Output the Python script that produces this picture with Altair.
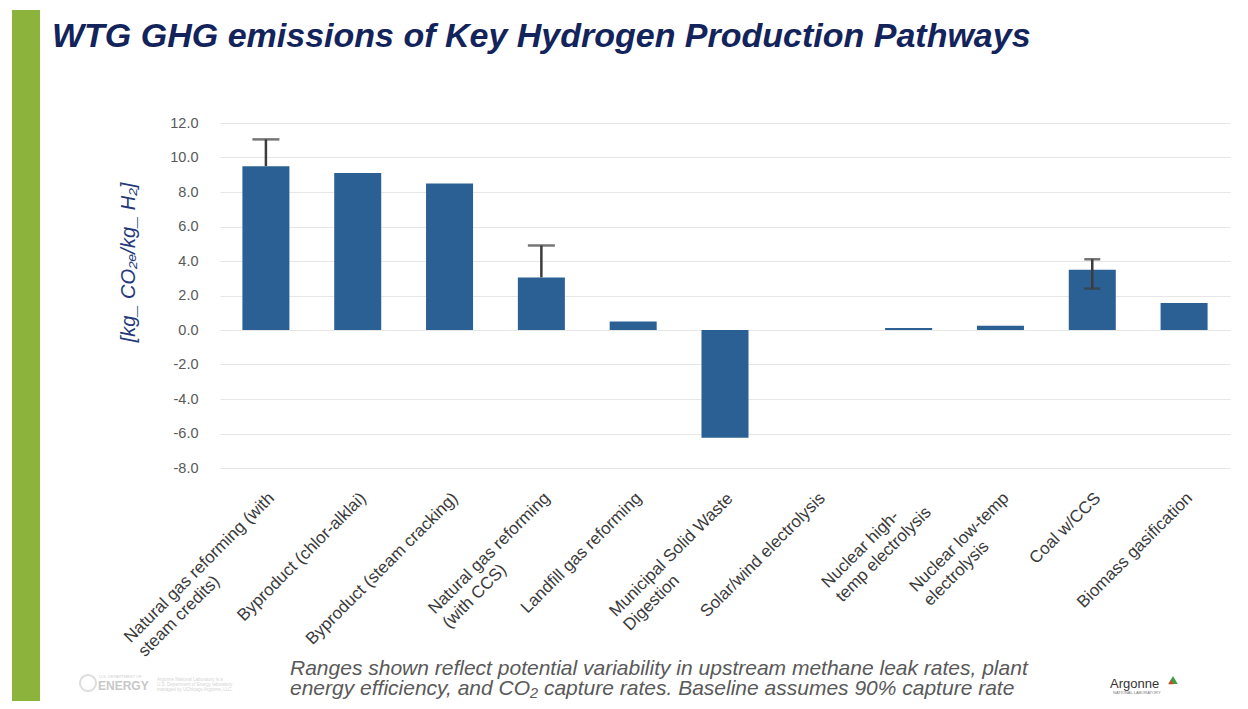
import altair as alt
import pandas as pd

# ---------------- data ----------------
label_lines = [
    ["Natural gas reforming (with", "steam credits)"],
    ["Byproduct (chlor-alklai)"],
    ["Byproduct (steam cracking)"],
    ["Natural gas reforming", "(with CCS)"],
    ["Landfill gas reforming"],
    ["Municipal Solid Waste", "Digestion"],
    ["Solar/wind electrolysis"],
    ["Nuclear high-", "temp electrolysis"],
    ["Nuclear low-temp", "electrolysis"],
    ["Coal w/CCS"],
    ["Biomass gasification"],
]
categories = [" ".join(l) for l in label_lines]
values = [9.5, 9.1, 8.5, 3.05, 0.5, -6.25, 0.0, 0.12, 0.25, 3.5, 1.57]

err_index = [0, 3, 9]
err_low = [9.5, 3.05, 2.4]
err_high = [11.05, 4.9, 4.1]
err_low_cap = [False, False, True]

y_ticks = [-8, -6, -4, -2, 0, 2, 4, 6, 8, 10, 12]

title_text = "WTG GHG emissions of Key Hydrogen Production Pathways"
y_title = "[kg_ CO\u2082\u2091/kg_ H\u2082]"
footnote = ["Ranges shown reflect potential variability in upstream methane leak rates, plant",
            "energy efficiency, and CO\u2082 capture rates. Baseline assumes 90% capture rate"]

# ---------------- layout helpers ----------------
W, H = 1010, 345
FONT = "Liberation Sans"
LABEL_SIZE = 17

# Arial / Liberation Sans advance widths (1/1000 em)
AW = {' ': 278, '(': 333, ')': 333, '-': 333, '/': 278,
      'a': 556, 'b': 556, 'c': 500, 'd': 556, 'e': 556, 'f': 278, 'g': 556, 'h': 556,
      'i': 222, 'j': 222, 'k': 500, 'l': 222, 'm': 833, 'n': 556, 'o': 556, 'p': 556,
      'q': 556, 'r': 333, 's': 500, 't': 278, 'u': 556, 'v': 500, 'w': 722, 'x': 500,
      'y': 500, 'z': 500, 'A': 667, 'B': 667, 'C': 722, 'D': 722, 'E': 667, 'F': 611,
      'G': 778, 'H': 722, 'I': 278, 'L': 556, 'M': 833, 'N': 722, 'O': 778, 'P': 667,
      'S': 667, 'T': 611, 'W': 944}


def text_width(s, size):
    return sum(AW.get(c, 556) for c in s) * size / 1000.0


xscale = alt.Scale(domain=categories, paddingInner=0.488, paddingOuter=0.244)
yscale = alt.Scale(domain=[-8, 12], nice=False, zero=False)

y_axis = alt.Axis(values=y_ticks,
                  labelExpr="replace(format(datum.value, '.1f'), '\u2212', '-')",
                  labelOverlap=False, grid=True, gridColor="#e6e6e6",
                  gridWidth=1, domain=False, ticks=False, labelFont=FONT,
                  labelFontSize=14.5, labelColor="#595959", labelPadding=22,
                  title=y_title, titleFont=FONT, titleFontSize=20,
                  titleFontStyle="italic", titleFontWeight="normal",
                  titleColor="#25397a", titleAngle=270, titleX=-92, titleY=139,
                  titleAlign="center", titleBaseline="middle")

df = pd.DataFrame({"cat": categories, "val": values})
edf = pd.DataFrame({
    "cat": [categories[i] for i in err_index],
    "lo": err_low,
    "hi": err_high,
    "locap": err_low_cap,
})

bars = alt.Chart(df).mark_bar(color="#2b6094").encode(
    x=alt.X("cat:N", scale=xscale, axis=None, sort=None),
    y=alt.Y("val:Q", scale=yscale, axis=y_axis),
    y2=alt.Y2(datum=0),
)

err_rule = alt.Chart(edf).mark_rule(color="#3c3c3c", strokeWidth=2.5).encode(
    x=alt.X("cat:N", scale=xscale, axis=None),
    y=alt.Y("lo:Q", scale=yscale, axis=y_axis),
    y2="hi:Q",
)
cap_hi_big = alt.Chart(edf).transform_filter("!datum.locap").mark_tick(
    color="#3c3c3c", thickness=2.5, size=27).encode(
    x=alt.X("cat:N", scale=xscale, axis=None),
    y=alt.Y("hi:Q", scale=yscale, axis=y_axis),
)
cap_small_hi = alt.Chart(edf).transform_filter("datum.locap").mark_tick(
    color="#3c3c3c", thickness=2.5, size=16).encode(
    x=alt.X("cat:N", scale=xscale, axis=None),
    y=alt.Y("hi:Q", scale=yscale, axis=y_axis),
)
cap_small_lo = alt.Chart(edf).transform_filter("datum.locap").mark_tick(
    color="#3c3c3c", thickness=2.5, size=16).encode(
    x=alt.X("cat:N", scale=xscale, axis=None),
    y=alt.Y("lo:Q", scale=yscale, axis=y_axis),
)

layers = [bars, err_rule, cap_hi_big, cap_small_hi, cap_small_lo]

# rotated category labels: lines left-aligned, longest line ending at the tick
for cat, lines in zip(categories, label_lines):
    L = max(text_width(s, LABEL_SIZE) for s in lines)
    ldf = pd.DataFrame({"cat": [cat], "txt": ["\n".join(lines)]})
    layers.append(
        alt.Chart(ldf).mark_text(
            angle=315, align="left", baseline="top", dx=-L, dy=0, lineBreak="\n",
            lineHeight=20, font=FONT, fontSize=LABEL_SIZE, color="#3a3a3a"
        ).encode(
            x=alt.X("cat:N", scale=xscale, axis=None),
            y=alt.value(H + 22),
            text="txt:N",
        )
    )

# title
layers.append(alt.Chart(pd.DataFrame({"t": [title_text]})).mark_text(
    align="left", baseline="alphabetic", font=FONT, fontSize=34, fontWeight="bold",
    fontStyle="italic", color="#13235b").encode(
    x=alt.value(-168), y=alt.value(-76), text="t:N"))

# green side stripe
layers.append(alt.Chart(pd.DataFrame({"a": [0]})).mark_rect(color="#8cb43c").encode(
    x=alt.value(-208), x2=alt.value(-180), y=alt.value(-113), y2=alt.value(586)))

# footnote
layers.append(alt.Chart(pd.DataFrame({"t": ["\n".join(footnote)]})).mark_text(
    align="left", baseline="alphabetic", font=FONT, fontSize=21, fontStyle="italic",
    lineBreak="\n", lineHeight=20, color="#595959").encode(
    x=alt.value(70), y=alt.value(552), text="t:N"))

# Argonne logo text
layers.append(alt.Chart(pd.DataFrame({"t": ["Argonne"]})).mark_text(
    align="left", baseline="alphabetic", font=FONT, fontSize=13, color="#333333").encode(
    x=alt.value(890), y=alt.value(565), text="t:N"))
layers.append(alt.Chart(pd.DataFrame({"t": ["NATIONAL LABORATORY"]})).mark_text(
    align="left", baseline="alphabetic", font=FONT, fontSize=4, color="#777777").encode(
    x=alt.value(893), y=alt.value(571), text="t:N"))
layers.append(alt.Chart(pd.DataFrame({"a": [0]})).mark_point(
    shape="triangle-up", filled=True, size=90, color="#3f9b45", opacity=1).encode(
    x=alt.value(953), y=alt.value(557)))
layers.append(alt.Chart(pd.DataFrame({"a": [0]})).mark_point(
    shape="triangle-up", filled=True, size=25, color="#d9412b", opacity=1).encode(
    x=alt.value(951), y=alt.value(559)))

# DOE logo (faint)
layers.append(alt.Chart(pd.DataFrame({"a": [0]})).mark_point(
    shape="circle", filled=False, size=260, color="#d0d0d0", strokeWidth=2).encode(
    x=alt.value(-132), y=alt.value(560)))
layers.append(alt.Chart(pd.DataFrame({"t": ["ENERGY"]})).mark_text(
    align="left", baseline="alphabetic", font=FONT, fontSize=12, fontWeight="bold",
    color="#c8c8c8").encode(x=alt.value(-122), y=alt.value(567), text="t:N"))
layers.append(alt.Chart(pd.DataFrame({"t": ["U.S. DEPARTMENT OF"]})).mark_text(
    align="left", baseline="alphabetic", font=FONT, fontSize=4, color="#d0d0d0").encode(
    x=alt.value(-121), y=alt.value(555), text="t:N"))
layers.append(alt.Chart(pd.DataFrame({"t": [
    "Argonne National Laboratory is a\nU.S. Department of Energy laboratory\nmanaged by UChicago Argonne, LLC."]})).mark_text(
    align="left", baseline="alphabetic", font=FONT, fontSize=4.5, lineBreak="\n",
    lineHeight=5, color="#d4d4d4").encode(x=alt.value(-63), y=alt.value(558), text="t:N"))

chart = alt.layer(*layers).properties(
    width=W, height=H,
    autosize=alt.AutoSizeParams(type="none"),
    padding={"left": 212, "top": 115, "right": 10, "bottom": 233},
    background="white",
).configure_view(stroke=None)

chart.save("out.html", embed_options={"renderer": "svg", "actions": False})
